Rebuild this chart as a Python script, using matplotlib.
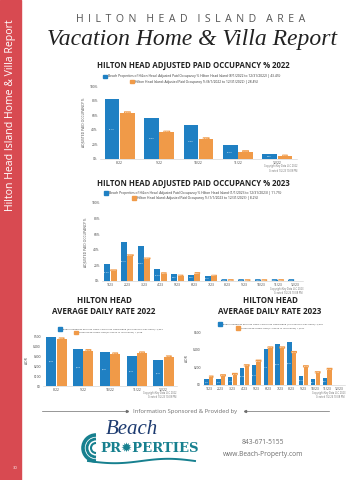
import numpy as np
import matplotlib
matplotlib.use("Agg")
import matplotlib.pyplot as plt
from matplotlib.patches import Rectangle, Arc

plt.rcParams['font.family'] = ['Open Sans', 'DejaVu Sans']

# ---- data ----
occ22_months = ['8/22', '9/22', '10/22', '11/22', '12/22']
occ22_bp = [81.7, 55.6, 46.9, 18.7, 6.8]
occ22_hhi = [63.4, 36.9, 27.8, 10.1, 4.1]

occ23_months = ['1/23', '2/23', '3/23', '4/23', '5/23', '6/23',
                '7/23', '8/23', '9/23', '10/23', '11/23', '12/23']
occ23_bp = [21.3, 50.1, 44.6, 15.2, 8.6, 8.2, 6.1, 1.2, 1.1, 1.3, 1.2, 1.1]
occ23_hhi = [13.1, 32.4, 28.3, 9.4, 6.3, 9.6, 6.2, 0.6, 0.5, 0.5, 0.6, 0.0]

adr22_bp = [493, 373, 337, 300, 257]
adr22_hhi = [467, 350, 317, 327, 287]

adr23_bp = [64, 68, 86, 195, 221, 413, 469, 492, 101, 71, 75, 0]
adr23_hhi = [86, 101, 116, 214, 266, 416, 416, 364, 203, 135, 173, 0]

occ_ticks = [0, 20, 40, 60, 80, 100]
adr22_ticks = [0, 100, 200, 300, 400, 500]
adr23_ticks = [0, 200, 400, 600]

BLUE = '#1f80c3'
ORANGE = '#f09a48'
RED = '#d84a51'
GREY = '#6d6d6d'

W, H = 364, 480
fig = plt.figure(figsize=(W / 100, H / 100), dpi=100)

# page layer in pixel coordinates
page = fig.add_axes([0, 0, 1, 1])
page.set_xlim(0, W)
page.set_ylim(H, 0)
page.axis('off')

page.add_patch(Rectangle((0, 0), 21, H, color=RED))
page.text(11, 115, 'Hilton Head Island Home & Villa Report', rotation=90,
          ha='center', va='center', color='white', fontsize=7.6)
page.text(15, 468, '30', ha='center', va='center', color='white', fontsize=3)

header = '   \u2009'.join(' \u2009'.join(w) for w in 'HILTON HEAD ISLAND AREA'.split())
page.text(191, 19, header, ha='center', va='center', color='#555555', fontsize=7.6)
page.text(192, 40, 'Vacation Home & Villa Report', ha='center', va='center',
          family='Liberation Serif', style='italic', fontsize=17, color='#222222')


def ax_rect(x0, y0, x1, y1):
    return [x0 / W, 1 - y1 / H, (x1 - x0) / W, (y1 - y0) / H]


def legend_line(x, y, color, label, size=2.2):
    page.add_patch(Rectangle((x, y - 1.6), 4, 3.2, color=color))
    page.text(x + 5, y, label, ha='left', va='center', fontsize=size, color='#333333')


def bar_chart(rect, cats, bp, hhi, ticks, ylim, fmt, ylabel):
    ax = fig.add_axes(rect)
    x = np.arange(len(cats))
    w = 0.37
    ax.bar(x - w / 2 - 0.01, bp, w, color=BLUE, zorder=2)
    ax.bar(x + w / 2 + 0.01, hhi, w, color=ORANGE, zorder=2)
    for xi, v in zip(x, bp):
        if v <= 0:
            continue
        if v < ylim * 0.04:
            ax.text(xi - w / 2 - 0.01, ylim * 0.012, fmt(v), ha='center',
                    va='center', fontsize=1.5, color='white', zorder=3,
                    bbox=dict(boxstyle='round,pad=0.2', fc=BLUE, ec='none'))
        else:
            ax.text(xi - w / 2 - 0.01, v / 2, fmt(v), ha='center',
                    va='center', fontsize=1.5, color='white', zorder=3)
    for xi, v in zip(x, hhi):
        if v > 0:
            ax.text(xi + w / 2 + 0.01, v, fmt(v), ha='center', va='bottom',
                    fontsize=1.5, color='white', zorder=3,
                    bbox=dict(boxstyle='round,pad=0.2', fc=ORANGE, ec='none'))
    ax.set_xlim(-0.5, len(cats) - 0.5)
    ax.set_ylim(0, ylim)
    ax.set_xticks(x, cats)
    ax.set_yticks(ticks, [fmt(t) for t in ticks])
    ax.tick_params(labelsize=2.4, length=0, pad=1.5, colors='#444444')
    for s in ['top', 'right', 'left']:
        ax.spines[s].set_visible(False)
    ax.spines['bottom'].set_color('#cccccc')
    ax.spines['bottom'].set_linewidth(0.4)
    ax.set_ylabel(ylabel, fontsize=2.4, labelpad=3, color='#444444')
    ax.set_facecolor('none')
    return ax


pct = lambda v: f'{v:.1f}%' if v % 1 else f'{v:.0f}%'
usd = lambda v: f'${v:.0f}'

# ---- occupancy 2022 ----
page.text(193, 66, 'HILTON HEAD ADJUSTED PAID OCCUPANCY % 2022', ha='center',
          va='center', fontsize=5.6, weight='bold', color='#222222')
legend_line(103, 76.5, BLUE, 'Beach Properties of Hilton Head: Adjusted Paid Occupancy % Hilton Head Island (8/1/2022 to 12/31/2022) | 43.4%)', 2.35)
legend_line(130, 81.5, ORANGE, 'Hilton Head Island: Adjusted Paid Occupancy % (8/1/2022 to 12/31/2022) | 28.4%)', 2.35)
bar_chart(ax_rect(100, 86, 297, 159), occ22_months, occ22_bp, occ22_hhi,
          occ_ticks, 100, pct, 'ADJUSTED PAID OCCUPANCY %')
page.text(297, 168.5, 'Copyright Key Data LLC 2022\nCreated 1/2/23 10:08 PM', ha='right',
          va='center', fontsize=1.8, color=GREY, linespacing=1.1)

# ---- occupancy 2023 ----
page.text(193, 184, 'HILTON HEAD ADJUSTED PAID OCCUPANCY % 2023', ha='center',
          va='center', fontsize=5.6, weight='bold', color='#222222')
legend_line(104, 193, BLUE, 'Beach Properties of Hilton Head: Adjusted Paid Occupancy % Hilton Head Island (1/1/2023 to 12/31/2023) | 11.7%)', 2.35)
legend_line(132, 198, ORANGE, 'Hilton Head Island: Adjusted Paid Occupancy % (1/1/2023 to 12/31/2023) | 8.2%)', 2.35)
bar_chart(ax_rect(102, 203, 303, 281), occ23_months, occ23_bp, occ23_hhi,
          occ_ticks, 100, pct, 'ADJUSTED PAID OCCUPANCY %')
page.text(303, 291, 'Copyright Key Data LLC 2023\nCreated 1/2/24 10:08 PM', ha='right',
          va='center', fontsize=1.8, color=GREY, linespacing=1.1)

# ---- ADR 2022 ----
page.text(104, 306, 'HILTON HEAD\nAVERAGE DAILY RATE 2022', ha='center', va='center',
          fontsize=5.8, weight='bold', color='#222222', linespacing=1.25)
legend_line(58, 329, BLUE, 'Beach Properties of Hilton Head: ADR Hilton Head Island (8/1/2022 to 12/31/2022) | $394', 1.75)
legend_line(74, 332.5, ORANGE, 'Hilton Head Island: ADR (8/1/2022 to 12/31/2022) | $368', 1.75)
bar_chart(ax_rect(43, 336, 177, 386), occ22_months, adr22_bp, adr22_hhi,
          adr22_ticks, 500, usd, 'ADR')
page.text(176, 395, 'Copyright Key Data LLC 2022\nCreated 1/2/23 10:08 PM', ha='right',
          va='center', fontsize=1.8, color=GREY, linespacing=1.1)

# ---- ADR 2023 ----
page.text(270, 306, 'HILTON HEAD\nAVERAGE DAILY RATE 2023', ha='center', va='center',
          fontsize=5.8, weight='bold', color='#222222', linespacing=1.25)
legend_line(218, 324, BLUE, 'Beach Properties of Hilton Head: ADR Hilton Head Island (1/1/2023 to 12/31/2023) | $318', 1.75)
legend_line(236, 328, ORANGE, 'Hilton Head Island: ADR (1/1/2023 to 12/31/2023) | $267', 1.75)
bar_chart(ax_rect(203, 332, 345, 385), occ23_months, adr23_bp, adr23_hhi,
          adr23_ticks, 600, usd, 'ADR')
page.text(345, 395, 'Copyright Key Data LLC 2023\nCreated 1/2/24 10:08 PM', ha='right',
          va='center', fontsize=1.8, color=GREY, linespacing=1.1)

# ---- sponsor footer ----
page.text(185, 411, 'Information Sponsored & Provided by', ha='center', va='center',
          fontsize=4.2, color=GREY)
page.plot([42, 127], [411, 411], color=GREY, lw=0.5)
page.plot([245, 329], [411, 411], color=GREY, lw=0.5)
page.plot([127], [411], marker='>', ms=1.5, color=GREY)
page.plot([245], [411], marker='<', ms=1.5, color=GREY)

page.text(132, 430, 'Beach', ha='center', va='center', family='Liberation Serif',
          style='italic', fontsize=15, color='#1d3b70')
page.text(150, 448, 'PR\u2739PERTIES', ha='center', va='center',
          family=['DejaVu Serif', 'DejaVu Sans'],
          weight='bold', fontsize=9.5, color='#17808f')
for r, lw in [(13, 2.6), (9, 2.0), (5, 1.5)]:
    page.add_patch(Arc((96, 448), 2 * r, 2 * r, theta1=90, theta2=270, color='#17808f', lw=lw))
wx = np.linspace(88, 195, 60)
page.plot(wx, 461 + 2.2 * np.sin((wx - 88) / 107 * 2 * np.pi), color='#17808f', lw=1.4)

page.text(263, 443, '843-671-5155', ha='center', va='center', fontsize=4.8, color=GREY)
page.text(263, 455, 'www.Beach-Property.com', ha='center', va='center', fontsize=4.8, color=GREY)

fig.savefig('out.png', dpi=100)
